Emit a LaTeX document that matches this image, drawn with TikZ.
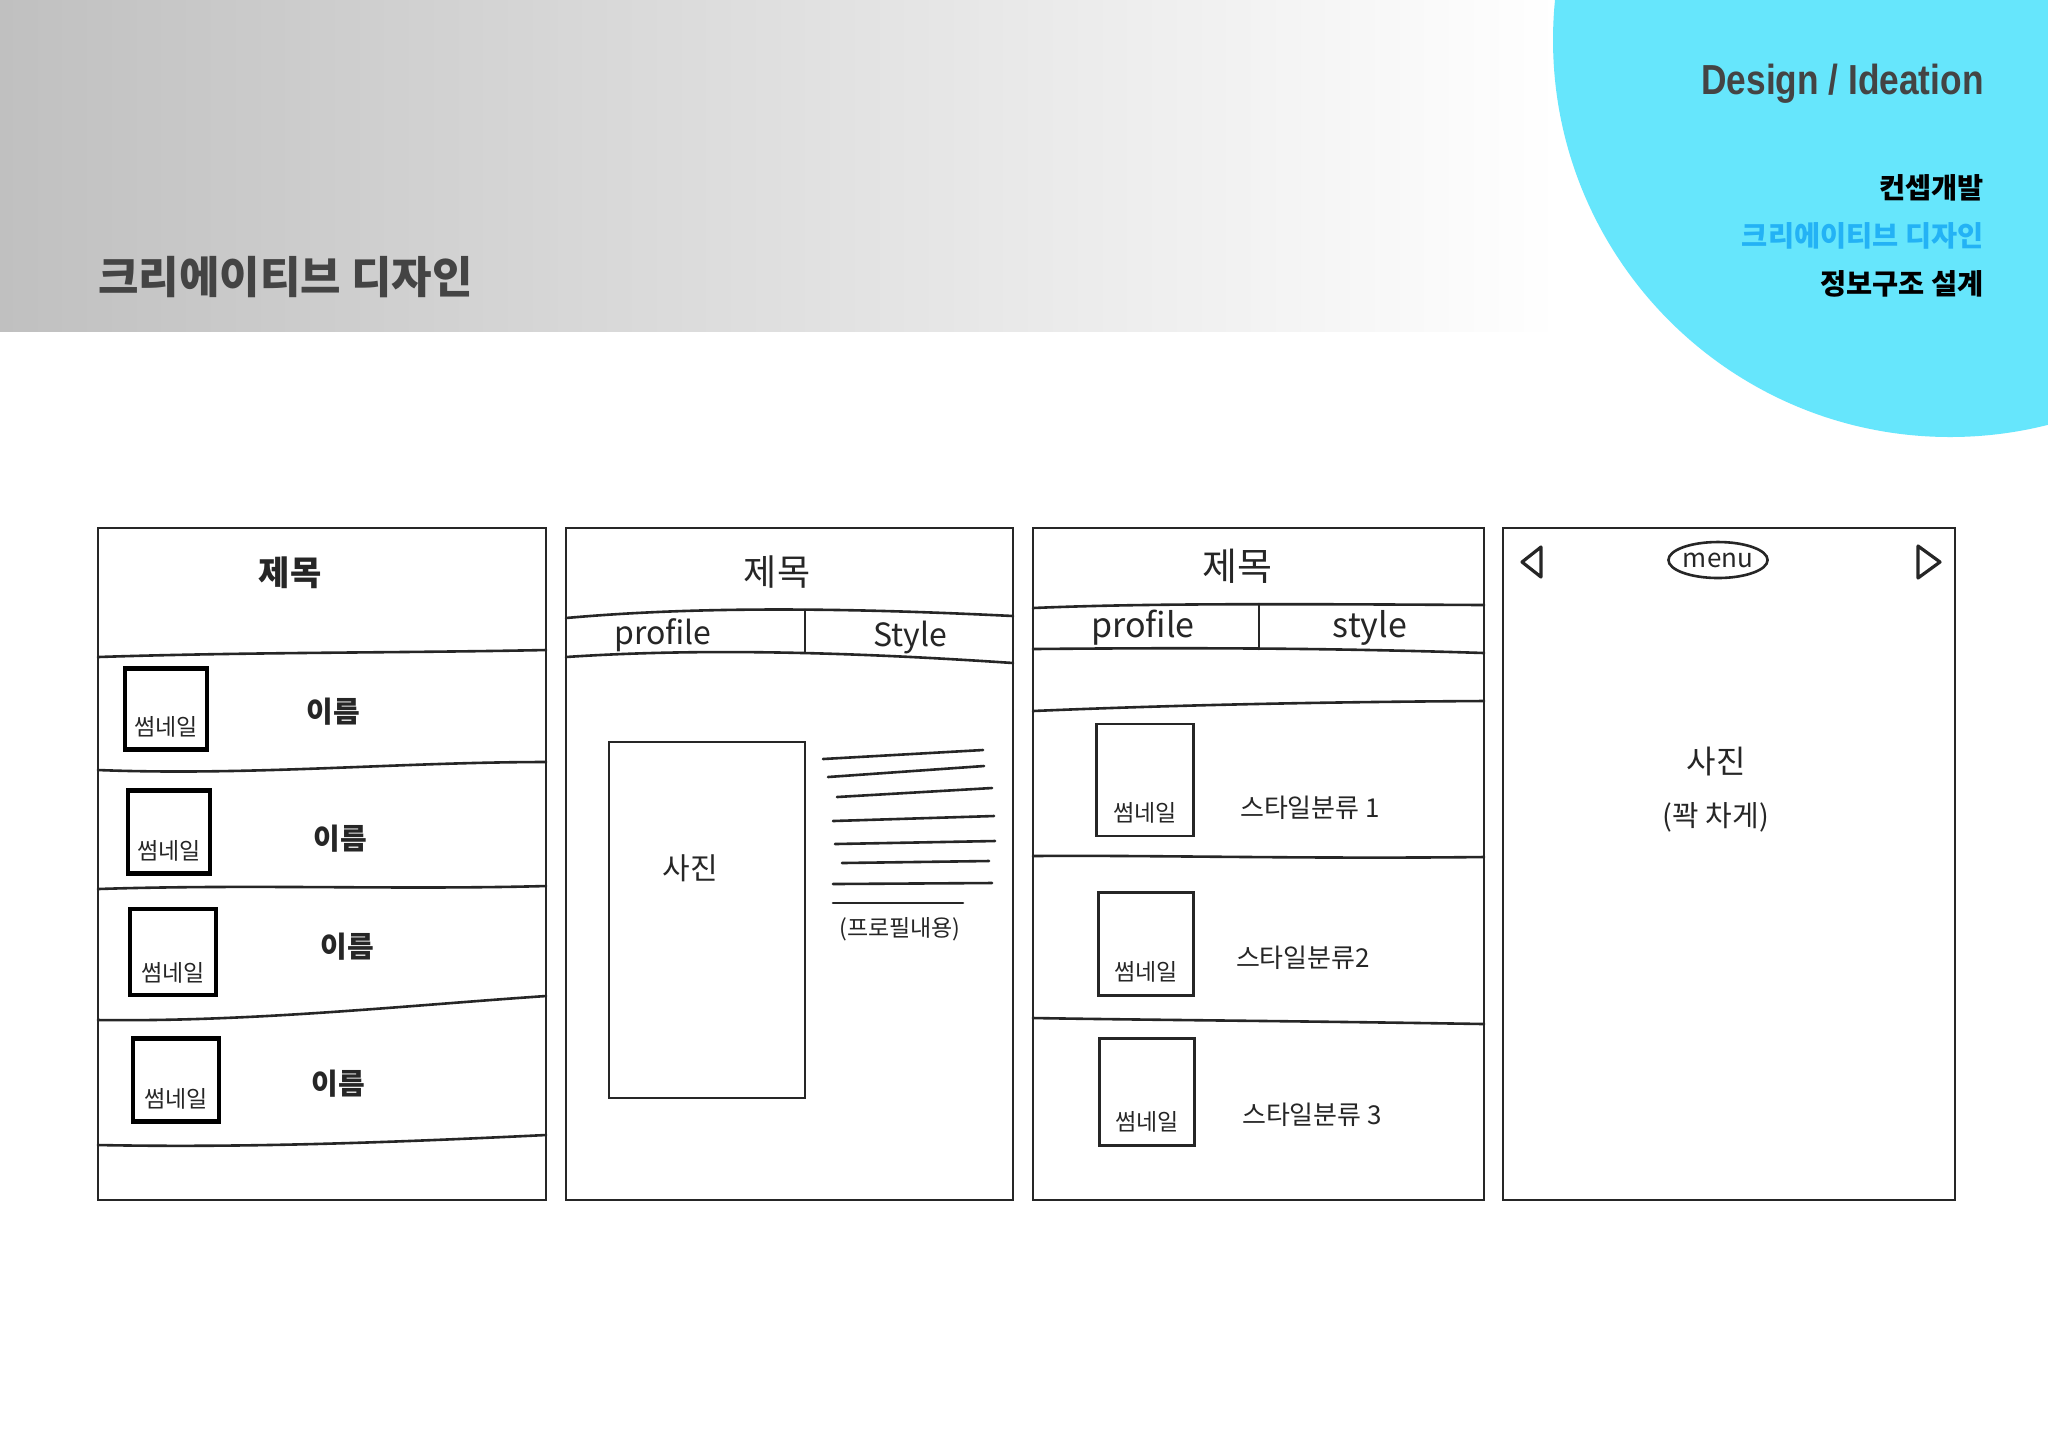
\documentclass[tikz,border=0pt]{standalone}
\usepackage{fontspec}
\setmainfont{Noto Sans CJK KR}
\newfontfamily\headfont[FakeStretch=0.84]{Liberation Sans}
\usepackage{tikz}
\usetikzlibrary{positioning, shapes.geometric}

\definecolor{bandgray}{RGB}{192,192,192}
\definecolor{skyblue}{RGB}{102,230,252}
\definecolor{titlegray}{RGB}{68,68,68}
\definecolor{linkblue}{RGB}{35,178,245}
\definecolor{pencil}{RGB}{38,38,38}

\begin{document}
\begin{tikzpicture}[
    x=0.5pt, y=-0.5pt,
    frame/.style={draw=pencil, line width=0.8pt},
    sketch/.style={draw=pencil, line width=1.3pt, line cap=round, line join=round},
    boldthumb/.style={rectangle, draw=black, line width=2.4pt},
    thinthumb/.style={rectangle, draw=pencil, line width=1.4pt},
    photobox/.style={rectangle, draw=pencil, line width=1.4pt},
    hand/.style={text=pencil, inner sep=0pt},
    thumbtext/.style={hand, font=\fontsize{11.5pt}{13pt}\selectfont},
    nametext/.style={hand, font=\fontsize{14.5pt}{16pt}\selectfont\bfseries},
    tabtext/.style={hand, font=\fontsize{16pt}{18pt}\selectfont},
    styletext/.style={hand, font=\fontsize{13pt}{15pt}\selectfont},
    sidetext/.style={anchor=east, inner sep=0pt, font=\fontsize{14.2pt}{16pt}\selectfont\bfseries}
]

% page background
\useasboundingbox (0,0) rectangle (2048,1448);
\begin{scope}
\clip (0,0) rectangle (2048,1448);
\fill[white] (0,0) rectangle (2048,1448);
\shade[left color=bandgray, right color=white] (0,0) rectangle (1560,331);
\fill[skyblue] (1950,40) circle[radius=198.5pt];
\end{scope}

\node[anchor=west, inner sep=0pt, text=titlegray, font=\fontsize{22pt}{26pt}\selectfont\bfseries] (pagetitle) at (98,277) {크리에이티브 디자인};
\node[anchor=base east, inner sep=0pt, text=titlegray, font=\headfont\bfseries\fontsize{21pt}{24pt}\selectfont] (design) at (1984,94) {Design / Ideation};
\node[sidetext, text=black] (concept) at (1984,188) {컨셉개발};
\node[sidetext, text=linkblue] (creative) at (1984,236) {크리에이티브 디자인};
\node[sidetext, text=black] (infoarch) at (1984,284) {정보구조 설계};

% panel 1
\draw[frame] (98,528) rectangle (546,1200);
\node[hand, font=\fontsize{17pt}{20pt}\selectfont\bfseries] (title1) at (290,573) {제목};
\draw[sketch] (98,657) .. controls (250,652) and (400,653) .. (546,650);
\draw[sketch] (98,770) .. controls (250,776) and (400,762) .. (546,762);
\draw[sketch] (98,889) .. controls (250,884) and (400,890) .. (546,886);
\draw[sketch] (98,1020) .. controls (250,1022) and (400,1006) .. (546,996);
\draw[sketch] (98,1145) .. controls (250,1148) and (400,1142) .. (546,1135);

\node[boldthumb, minimum width=41pt, minimum height=40.5pt] (thumb1) at (166,709) {};
\node[boldthumb, minimum width=41pt, minimum height=41.5pt] (thumb2) at (169,832) {};
\node[boldthumb, minimum width=43pt, minimum height=43pt] (thumb3) at (173,952) {};
\node[boldthumb, minimum width=43pt, minimum height=41.5pt] (thumb4) at (176,1080) {};
\node[thumbtext, above=7pt of thumb1.south] (thumbtext1) {썸네일};
\node[thumbtext, above=7pt of thumb2.south] (thumbtext2) {썸네일};
\node[thumbtext, above=7pt of thumb3.south] (thumbtext3) {썸네일};
\node[thumbtext, above=7pt of thumb4.south] (thumbtext4) {썸네일};
\node[nametext] (name1) at (333,712) {이름};
\node[nametext] (name2) at (340,839) {이름};
\node[nametext] (name3) at (347,947) {이름};
\node[nametext] (name4) at (338,1084) {이름};

% panel 2
\draw[frame] (566,528) rectangle (1013,1200);
\node[hand, font=\fontsize{18pt}{20pt}\selectfont] (title2) at (777,572) {제목};
\draw[sketch] (566,618) .. controls (700,606) and (850,608) .. (1013,616);
\draw[sketch] (566,657) .. controls (700,648) and (850,652) .. (1013,663);
\draw[sketch] (805,610) -- (805,652);
\node[tabtext] (profile2) at (663,635) {profile};
\node[tabtext] (style2) at (910,637) {Style};
\node[photobox, minimum width=98pt, minimum height=178pt] (photo2) at (707,920) {};
\node[hand, font=\fontsize{15pt}{17pt}\selectfont] (pic2) at (690,868) {사진};
\draw[sketch] (823,759) -- (983,750);
\draw[sketch] (828,777) -- (984,766);
\draw[sketch] (837,797) -- (992,788);
\draw[sketch] (833,821) -- (994,816);
\draw[sketch] (835,844) -- (995,841);
\draw[sketch] (842,863) -- (989,861);
\draw[sketch] (833,884) -- (992,883);
\draw[sketch] (833,903) -- (963,903);
\node[thumbtext] (note2) at (900,929) {(프로필내용)};

% panel 3
\draw[frame] (1033,528) rectangle (1484,1200);
\node[hand, font=\fontsize{19pt}{21pt}\selectfont] (title3) at (1237,566) {제목};
\draw[sketch] (1033,608) .. controls (1150,603) and (1300,604) .. (1484,605);
\draw[sketch] (1033,649) .. controls (1150,648) and (1300,647) .. (1484,653);
\draw[sketch] (1259,604) -- (1259,649);
\node[tabtext, font=\fontsize{17pt}{19pt}\selectfont] (profile3) at (1143,628) {profile};
\node[tabtext, font=\fontsize{17pt}{19pt}\selectfont] (style3) at (1370,628) {style};
\draw[sketch] (1033,711) .. controls (1150,706) and (1300,702) .. (1484,701);
\draw[sketch] (1033,856) .. controls (1150,855) and (1300,859) .. (1484,857);
\draw[sketch] (1033,1018) .. controls (1150,1020) and (1300,1021) .. (1484,1024);

\node[thinthumb, minimum width=48.5pt, minimum height=56pt] (card1) at (1145,780) {};
\node[thinthumb, minimum width=47.5pt, minimum height=51.5pt] (card2) at (1146,944) {};
\node[thinthumb, minimum width=47.5pt, minimum height=53.5pt] (card3) at (1147,1092) {};
\node[thumbtext, above=7pt of card1.south] (cardtext1) {썸네일};
\node[thumbtext, above=7pt of card2.south] (cardtext2) {썸네일};
\node[thumbtext, above=7pt of card3.south] (cardtext3) {썸네일};
\node[styletext] (kind1) at (1310,808) {스타일분류 1};
\node[styletext] (kind2) at (1303,958) {스타일분류2};
\node[styletext] (kind3) at (1312,1115) {스타일분류 3};

% panel 4
\draw[frame] (1503,528) rectangle (1955,1200);
\draw[sketch, line width=1.6pt] (1522,562) -- (1541,547) -- (1541,577) -- cycle;
\draw[sketch, line width=1.6pt] (1940,562) -- (1918,546) -- (1918,578) -- cycle;
\node[ellipse, draw=pencil, line width=1.3pt, minimum width=46pt, minimum height=18pt, inner sep=0pt, text=pencil, font=\fontsize{13pt}{15pt}\selectfont] (menu) at (1718,560) {menu};
\node[hand, font=\fontsize{16pt}{18pt}\selectfont] (pic4) at (1716,761) {사진};
\node[hand, font=\fontsize{14.5pt}{16pt}\selectfont, below=13pt of pic4] (fill4) {(꽉 차게)};

\end{tikzpicture}
\end{document}
